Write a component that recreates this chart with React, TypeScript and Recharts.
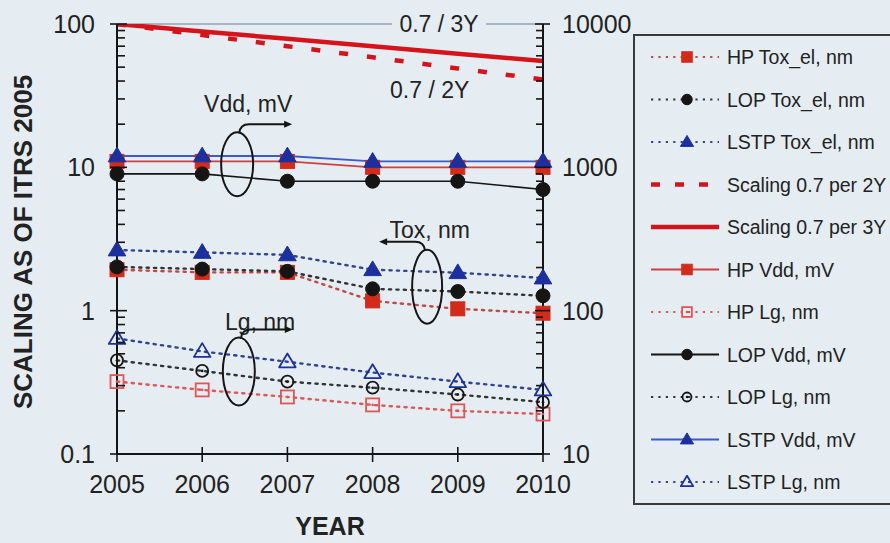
import React from 'react';
import { LineChart, Line, XAxis, YAxis, Legend, ReferenceLine, ReferenceDot } from 'recharts';

// ---- data ----
const years = [2005, 2006, 2007, 2008, 2009, 2010];

// electrical oxide thickness, nm (left axis)
const hpToxEl = [1.93, 1.85, 1.85, 1.17, 1.03, 0.96];
const lopToxEl = [2.02, 1.95, 1.88, 1.42, 1.36, 1.27];
const lstpToxEl = [2.65, 2.55, 2.45, 1.93, 1.84, 1.69];

// reference scaling trends, % of 2005 (left axis)
const scaling2Y = [100, 83.7, 70, 58.6, 49, 41];
const scaling3Y = [100, 88.8, 78.8, 70, 62.1, 55.2];

// supply voltage, mV and gate length, nm (right axis)
const hpVdd = [1100, 1100, 1100, 1000, 1000, 1000];
const hpLg = [32, 28, 25, 22, 20, 19];
const lopVdd = [900, 900, 800, 800, 800, 700];
const lopLg = [45, 38, 32, 29, 26, 23];
const lstpVdd = [1200, 1200, 1200, 1100, 1100, 1100];
const lstpLg = [64, 52, 44, 37, 32, 28];

const leftMajor = [0.1, 1, 10, 100];
const leftMajorLabels = ['0.1', '1', '10', '100'];
const rightMajor = [10, 100, 1000, 10000];
const rightMajorLabels = ['10', '100', '1000', '10000'];
const xTickLabels = ['2005', '2006', '2007', '2008', '2009', '2010'];

const data = years.map((year, i) => ({
  year,
  hpToxEl: hpToxEl[i],
  lopToxEl: lopToxEl[i],
  lstpToxEl: lstpToxEl[i],
  scaling2Y: scaling2Y[i],
  scaling3Y: scaling3Y[i],
  hpVdd: hpVdd[i],
  hpLg: hpLg[i],
  lopVdd: lopVdd[i],
  lopLg: lopLg[i],
  lstpVdd: lstpVdd[i],
  lstpLg: lstpLg[i],
}));

// minor log ticks (2..9 within each decade)
const withMinors = (majors: number[]) => {
  const out: number[] = [];
  majors.forEach((m, idx) => {
    out.push(m);
    if (idx < majors.length - 1) for (let k = 2; k <= 9; k++) out.push(+(m * k).toPrecision(6));
  });
  return out;
};
const leftTicks = withMinors(leftMajor);
const rightTicks = withMinors(rightMajor);

// ---- styling ----
const FONT = 'Arial, "Liberation Sans", Helvetica, sans-serif';
const BG = '#e5edf3';
const RED = '#d42a1a';
const RED_LIGHT = '#de5656';
const BLACK = '#151515';
const BLUE = '#1c2f9e';
const BLUE_LINE = '#3a5cc8';
const TEXT = '#222';

type Shape = 'square' | 'circle' | 'triangle' | 'none';

const Marker = ({ cx, cy, shape, color, filled, size }: any) => {
  if (cx == null || cy == null || shape === 'none') return null;
  const h = size / 2;
  const common = filled
    ? { fill: color, stroke: color, strokeWidth: 1 }
    : { fill: 'none', stroke: color, strokeWidth: 1.8 };
  if (shape === 'square') {
    return (
      <g>
        <rect x={cx - h} y={cy - h} width={size} height={size} {...common} />
        {!filled && <circle cx={cx} cy={cy} r={1.3} fill={color} />}
      </g>
    );
  }
  if (shape === 'circle') {
    return (
      <g>
        <circle cx={cx} cy={cy} r={h} {...common} />
        {!filled && <circle cx={cx} cy={cy} r={1.3} fill={color} />}
      </g>
    );
  }
  const th = size * 0.92;
  return (
    <polygon
      points={`${cx},${cy - th * 0.6} ${cx + h * 1.1},${cy + th * 0.4} ${cx - h * 1.1},${cy + th * 0.4}`}
      {...common}
      strokeLinejoin="round"
    />
  );
};

type SeriesDef = {
  key: string;
  name: string;
  axis: 'left' | 'right';
  stroke: string;
  width: number;
  dash?: string;
  shape: Shape;
  markColor: string;
  filled: boolean;
  size: number;
};

const DOT = '2.2 5.2';

// draw order (later on top)
const drawOrder: SeriesDef[] = [
  { key: 'hpLg', name: 'HP Lg, nm', axis: 'right', stroke: RED_LIGHT, width: 2.4, dash: DOT, shape: 'square', markColor: RED_LIGHT, filled: false, size: 13 },
  { key: 'lopLg', name: 'LOP Lg, nm', axis: 'right', stroke: '#333', width: 2.4, dash: DOT, shape: 'circle', markColor: BLACK, filled: false, size: 12 },
  { key: 'lstpLg', name: 'LSTP Lg, nm', axis: 'right', stroke: '#32438f', width: 2.4, dash: DOT, shape: 'triangle', markColor: BLUE, filled: false, size: 15 },
  { key: 'hpToxEl', name: 'HP Tox_el, nm', axis: 'left', stroke: '#c04848', width: 2.4, dash: DOT, shape: 'square', markColor: RED, filled: true, size: 14 },
  { key: 'lopToxEl', name: 'LOP Tox_el, nm', axis: 'left', stroke: '#333', width: 2.4, dash: DOT, shape: 'circle', markColor: BLACK, filled: true, size: 14 },
  { key: 'lstpToxEl', name: 'LSTP Tox_el, nm', axis: 'left', stroke: '#32438f', width: 2.4, dash: DOT, shape: 'triangle', markColor: BLUE, filled: true, size: 16 },
  { key: 'hpVdd', name: 'HP Vdd, mV', axis: 'right', stroke: '#d04040', width: 1.6, shape: 'square', markColor: RED, filled: true, size: 14 },
  { key: 'lopVdd', name: 'LOP Vdd, mV', axis: 'right', stroke: BLACK, width: 1.6, shape: 'circle', markColor: BLACK, filled: true, size: 14 },
  { key: 'lstpVdd', name: 'LSTP Vdd, mV', axis: 'right', stroke: BLUE_LINE, width: 1.8, shape: 'triangle', markColor: BLUE, filled: true, size: 16 },
  { key: 'scaling2Y', name: 'Scaling 0.7 per 2Y', axis: 'left', stroke: '#d4141a', width: 4.5, dash: '9 19', shape: 'none', markColor: RED, filled: true, size: 0 },
  { key: 'scaling3Y', name: 'Scaling 0.7 per 3Y', axis: 'left', stroke: '#d4141a', width: 4.5, shape: 'none', markColor: RED, filled: true, size: 0 },
];

const legendOrder = [
  'hpToxEl', 'lopToxEl', 'lstpToxEl', 'scaling2Y', 'scaling3Y',
  'hpVdd', 'hpLg', 'lopVdd', 'lopLg', 'lstpVdd', 'lstpLg',
];

// ---- axis ticks ----
const LeftTick = ({ x, y, payload }: any) => {
  const v = payload.value;
  const mi = leftMajor.findIndex((m) => Math.abs(m - v) < 1e-9);
  return (
    <g>
      {mi >= 0 ? (
        <line x1={x - 7} x2={x + 10} y1={y} y2={y} stroke={BLACK} strokeWidth={1.6} />
      ) : (
        <line x1={x} x2={x + 8} y1={y} y2={y} stroke={BLACK} strokeWidth={1.6} />
      )}
      {mi >= 0 && (
        <text x={x - 22} y={y} textAnchor="end" dominantBaseline="central" fontSize={25} fill={TEXT} fontFamily={FONT}>
          {leftMajorLabels[mi]}
        </text>
      )}
    </g>
  );
};

const RightTick = ({ x, y, payload }: any) => {
  const v = payload.value;
  const mi = rightMajor.findIndex((m) => Math.abs(m - v) < 1e-6);
  return (
    <g>
      {mi >= 0 ? (
        <line x1={x - 8} x2={x + 7} y1={y} y2={y} stroke={BLACK} strokeWidth={1.6} />
      ) : (
        <line x1={x - 7} x2={x} y1={y} y2={y} stroke={BLACK} strokeWidth={1.6} />
      )}
      {mi >= 0 && (
        <text x={x + 19} y={y} textAnchor="start" dominantBaseline="central" fontSize={25} fill={TEXT} fontFamily={FONT}>
          {rightMajorLabels[mi]}
        </text>
      )}
    </g>
  );
};

const XTick = ({ x, y, payload, index }: any) => (
  <g>
    <line x1={x} x2={x} y1={y - 7} y2={y + 8} stroke={BLACK} strokeWidth={1.6} />
    <text x={x} y={y + 30} textAnchor="middle" dominantBaseline="central" fontSize={25} fill={TEXT} fontFamily={FONT}>
      {xTickLabels[index] ?? String(payload.value)}
    </text>
  </g>
);

// ---- annotations ----
const Bracket = ({ cx, cy, rx, ry, dir, reach }: any) => {
  if (cx == null || cy == null) return null;
  const top = cy - ry;
  const ly = top - 8;
  const s = dir === 'right' ? 1 : -1;
  const endX = cx + s * reach;
  const path = `M ${cx + s * 2} ${top + 1} Q ${cx + s * 3} ${ly} ${cx + s * 12} ${ly} L ${endX - s * 6} ${ly}`;
  return (
    <g>
      <ellipse cx={cx} cy={cy} rx={rx} ry={ry} fill="none" stroke={BLACK} strokeWidth={2} />
      <path d={path} fill="none" stroke={BLACK} strokeWidth={2} />
      <polygon
        points={`${endX},${ly} ${endX - s * 8},${ly - 3.5} ${endX - s * 8},${ly + 3.5}`}
        fill={BLACK}
      />
    </g>
  );
};

const Note = ({ cx, cy, text, size = 23, boxed = false, boxWidth = 0 }: any) => {
  if (cx == null || cy == null) return null;
  return (
    <g>
      {boxed && <rect x={cx - boxWidth / 2} y={cy - 12} width={boxWidth} height={24} fill={BG} />}
      <text x={cx} y={cy} textAnchor="middle" dominantBaseline="central" fontSize={size} fill={TEXT} fontFamily={FONT}>
        {text}
      </text>
    </g>
  );
};

// ---- legend ----
const LegendIcon = ({ def, y }: { def: SeriesDef; y: number }) => (
  <g>
    <line
      x1={16}
      x2={84}
      y1={y}
      y2={y}
      stroke={def.stroke}
      strokeWidth={def.key.startsWith('scaling') ? 4.5 : def.dash ? 2 : 1.8}
      strokeDasharray={def.key === 'scaling2Y' ? '9 15' : def.dash}
    />
    <Marker cx={52} cy={y} shape={def.shape} color={def.markColor} filled={def.filled} size={def.size * 0.75} />
  </g>
);

const LegendBox = () => {
  const rows = legendOrder.map((k) => drawOrder.find((d) => d.key === k)!);
  return (
    <div
      style={{
        width: 270,
        height: 471,
        boxSizing: 'border-box',
        border: '2px solid #3a3a3a',
        background: BG,
      }}
    >
      <svg width={266} height={467} style={{ display: 'block' }}>
        {rows.map((def, i) => {
          const y = 21 + i * 42.5;
          return (
            <g key={def.key}>
              <LegendIcon def={def} y={y} />
              <text x={92} y={y} dominantBaseline="central" fontSize={19.5} fill={TEXT} fontFamily={FONT}>
                {def.name}
              </text>
            </g>
          );
        })}
      </svg>
    </div>
  );
};

export default function App() {
  return (
    <div
      style={{
        position: 'fixed',
        left: 0,
        top: 0,
        width: 890,
        height: 543,
        background: BG,
        overflow: 'hidden',
        fontFamily: FONT,
      }}
    >
      <LineChart width={890} height={543} data={data} margin={{ top: 24, right: 247, bottom: 49, left: 0 }}>
        <XAxis
          dataKey="year"
          type="number"
          domain={[2005, 2010]}
          ticks={years}
          interval={0}
          height={40}
          tickSize={0}
          tickMargin={0}
          tick={<XTick />}
          axisLine={{ stroke: BLACK, strokeWidth: 2 }}
          tickLine={false}
          label={{
            content: (p: any) => {
              const vb = p.viewBox || {};
              return (
                <text
                  x={(vb.x ?? 117) + (vb.width ?? 426) / 2}
                  y={(vb.y ?? 454) + 72}
                  textAnchor="middle"
                  dominantBaseline="central"
                  fontSize={25}
                  fontWeight="bold"
                  fill={TEXT}
                  fontFamily={FONT}
                >
                  YEAR
                </text>
              );
            },
          }}
        />
        <YAxis
          yAxisId="left"
          orientation="left"
          scale="log"
          domain={[0.1, 100]}
          allowDataOverflow
          ticks={leftTicks}
          interval={0}
          width={117}
          tickSize={0}
          tickMargin={0}
          tick={<LeftTick />}
          axisLine={{ stroke: BLACK, strokeWidth: 2 }}
          tickLine={false}
          label={{
            content: (p: any) => {
              const vb = p.viewBox || {};
              const cx = 23;
              const cy = (vb.y ?? 24) + (vb.height ?? 430) / 2 + 3;
              return (
                <text
                  x={cx}
                  y={cy}
                  transform={`rotate(-90 ${cx} ${cy})`}
                  textAnchor="middle"
                  dominantBaseline="central"
                  fontSize={26}
                  fontWeight="bold"
                  fill={TEXT}
                  fontFamily={FONT}
                >
                  SCALING AS OF ITRS 2005
                </text>
              );
            },
          }}
        />
        <YAxis
          yAxisId="right"
          orientation="right"
          scale="log"
          domain={[10, 10000]}
          allowDataOverflow
          ticks={rightTicks}
          interval={0}
          width={100}
          tickSize={0}
          tickMargin={0}
          tick={<RightTick />}
          axisLine={{ stroke: BLACK, strokeWidth: 2 }}
          tickLine={false}
        />

        <ReferenceLine yAxisId="left" y={100} stroke="#a9b5c2" strokeWidth={2} />
        <ReferenceDot
          yAxisId="left"
          x={2008.78}
          y={100}
          r={0}
          shape={(p: any) => <Note cx={p.cx} cy={p.cy} text="0.7 / 3Y" boxed boxWidth={94} />}
        />
        <ReferenceDot
          yAxisId="left"
          x={2008.67}
          y={34.7}
          r={0}
          shape={(p: any) => <Note cx={p.cx} cy={p.cy} text="0.7 / 2Y" />}
        />

        {drawOrder.map((d) => (
          <Line
            key={d.key}
            yAxisId={d.axis}
            dataKey={d.key}
            name={d.name}
            type="linear"
            stroke={d.stroke}
            strokeWidth={d.width}
            strokeDasharray={d.dash}
            strokeLinecap={d.dash && !d.key.startsWith('scaling') ? 'round' : 'butt'}
            dot={
              d.shape === 'none'
                ? false
                : (p: any) => (
                    <Marker
                      key={`${d.key}-${p.index}`}
                      cx={p.cx}
                      cy={p.cy}
                      shape={d.shape}
                      color={d.markColor}
                      filled={d.filled}
                      size={d.size}
                    />
                  )
            }
            activeDot={false}
            isAnimationActive={false}
          />
        ))}

        <ReferenceDot yAxisId="left" x={2006.54} y={27.7} r={0} shape={(p: any) => <Note cx={p.cx} cy={p.cy} text="Vdd, mV" />} />
        <ReferenceDot
          yAxisId="left"
          x={2006.41}
          y={10.5}
          r={0}
          shape={(p: any) => <Bracket cx={p.cx} cy={p.cy} rx={16} ry={32} dir="right" reach={55} />}
        />
        <ReferenceDot yAxisId="left" x={2008.67} y={3.67} r={0} shape={(p: any) => <Note cx={p.cx} cy={p.cy} text="Tox, nm" />} />
        <ReferenceDot
          yAxisId="left"
          x={2008.64}
          y={1.47}
          r={0}
          shape={(p: any) => <Bracket cx={p.cx} cy={p.cy} rx={15} ry={37} dir="left" reach={48} />}
        />
        <ReferenceDot yAxisId="left" x={2006.68} y={0.838} r={0} shape={(p: any) => <Note cx={p.cx} cy={p.cy} text="Lg, nm" />} />
        <ReferenceDot
          yAxisId="left"
          x={2006.43}
          y={0.376}
          r={0}
          shape={(p: any) => <Bracket cx={p.cx} cy={p.cy} rx={16} ry={34} dir="right" reach={54} />}
        />

        <Legend
          layout="vertical"
          align="center"
          verticalAlign="middle"
          wrapperStyle={{ left: 633, top: 34, width: 270, height: 471 }}
          content={() => <LegendBox />}
        />
      </LineChart>
    </div>
  );
}
